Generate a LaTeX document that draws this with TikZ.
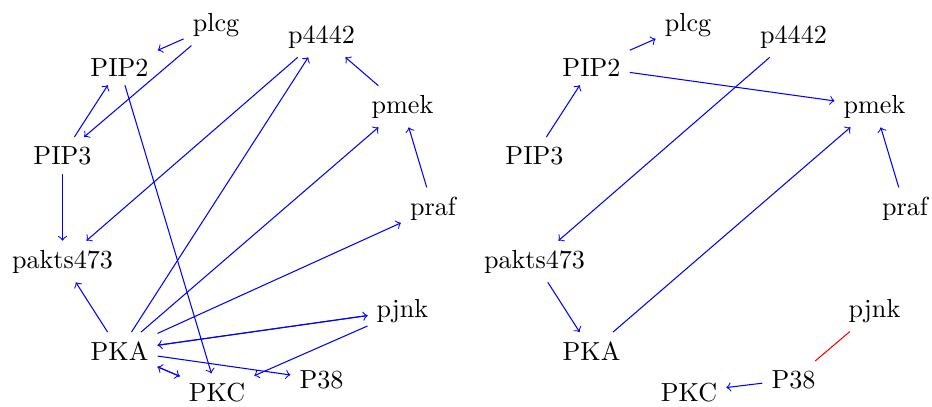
\documentclass[tikz,border=0pt]{standalone}
\begin{document}
\begin{tikzpicture}[x=0.3829pt,y=-0.3829pt,
  vtx/.style={anchor=base},
  dir/.style={->,blue},
  und/.style={red}]
\useasboundingbox (0,0) rectangle (932,406);
\foreach \g/\dx in {L/0,R/472}{
  \begin{scope}[xshift=\dx*0.3829pt]
  \node[vtx] (plcg\g) at (216,31) {plcg};
  \node[vtx] (PIPtwo\g) at (119.5,76) {PIP2};
  \node[vtx] (pfour\g) at (321.5,43) {p4442};
  \node[vtx] (pmek\g) at (402.5,113) {pmek};
  \node[vtx] (PIPthree\g) at (62.5,164) {PIP3};
  \node[vtx] (praf\g) at (433,215) {praf};
  \node[vtx] (pakts\g) at (62.5,268) {pakts473};
  \node[vtx] (pjnk\g) at (402.5,317) {pjnk};
  \node[vtx] (PKA\g) at (119.5,360) {PKA};
  \node[vtx] (PKC\g) at (217,401) {PKC};
  \node[vtx] (Pthree\g) at (321.5,388) {P38};
  \end{scope}
}
% left graph
\draw[dir] (plcgL) -- (PIPtwoL);
\draw[dir] (plcgL) -- (PIPthreeL);
\draw[dir] (PIPthreeL) -- (PIPtwoL);
\draw[dir] (PIPtwoL) -- (PKCL);
\draw[dir] (PIPthreeL) -- (paktsL);
\draw[dir] (pfourL) -- (paktsL);
\draw[dir] (PKAL) -- (pfourL);
\draw[dir] (pmekL) -- (pfourL);
\draw[dir] (PKAL) -- (pmekL);
\draw[dir] (prafL) -- (pmekL);
\draw[dir] (PKAL) -- (prafL);
\draw[dir] (PKAL) -- (paktsL);
\draw[dir] (PKAL) -- (pjnkL);
\draw[dir] (pjnkL) -- (PKAL);
\draw[dir] (PKAL) -- (PthreeL);
\draw[dir] (pjnkL) -- (PKCL);
\draw[dir] (PKAL) -- (PKCL);
\draw[dir] (PKCL) -- (PKAL);
% right graph
\draw[dir] (PIPtwoR) -- (plcgR);
\draw[dir] (PIPthreeR) -- (PIPtwoR);
\draw[dir] (PIPtwoR) -- (pmekR);
\draw[dir] (pfourR) -- (paktsR);
\draw[dir] (PKAR) -- (pmekR);
\draw[dir] (prafR) -- (pmekR);
\draw[dir] (paktsR) -- (PKAR);
\draw[dir] (PthreeR) -- (PKCR);
\draw[und] (pjnkR) -- (PthreeR);
\end{tikzpicture}
\end{document}
